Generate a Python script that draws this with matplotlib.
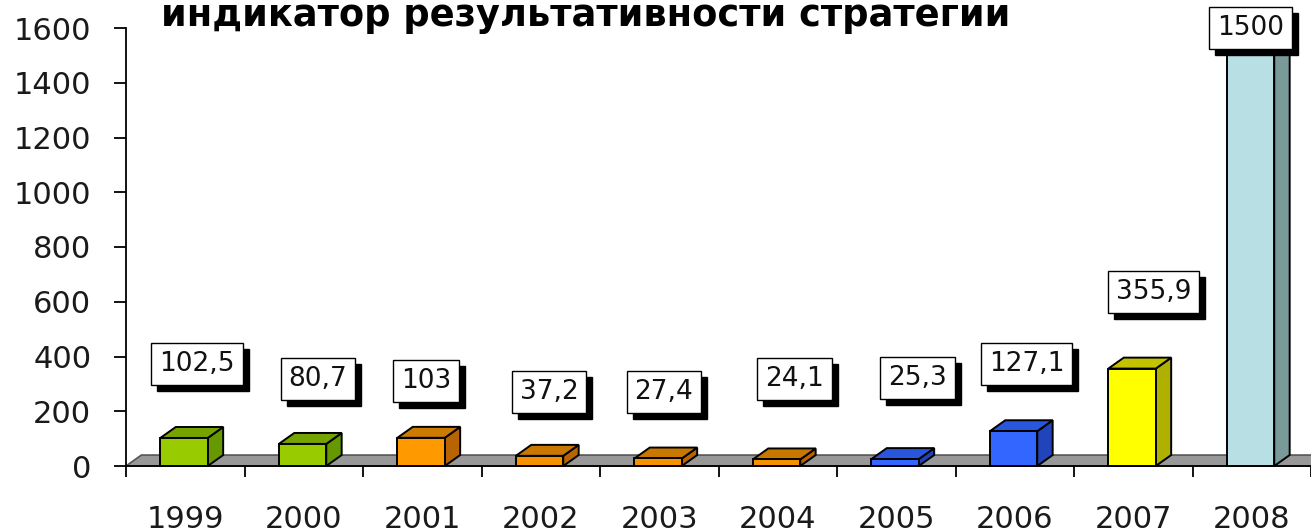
import numpy as np
import matplotlib
matplotlib.use("Agg")
from matplotlib import pyplot as plt
from matplotlib.patches import Polygon, Rectangle
from matplotlib.transforms import ScaledTranslation

years = ["1999", "2000", "2001", "2002", "2003", "2004", "2005", "2006", "2007", "2008"]
values = [102.5, 80.7, 103, 37.2, 27.4, 24.1, 25.3, 127.1, 355.9, 1500]
value_labels = ["102,5", "80,7", "103", "37,2", "27,4", "24,1", "25,3", "127,1", "355,9", "1500"]
title = "индикатор результативности стратегии"

# bar face colours (front, top, side)
front_cols = ["#99cc00", "#99cc00", "#ff9900", "#f59200", "#f59200", "#f59200",
              "#3366ff", "#3366ff", "#ffff00", "#b8dfe3"]
top_cols = ["#77a300", "#77a300", "#cc7a00", "#c87800", "#c87800", "#c87800",
            "#2a55dd", "#2a55dd", "#c2c200", "#b8dfe3"]
side_cols = ["#669900", "#669900", "#b86400", "#b86400", "#b86400", "#b86400",
             "#2244bb", "#2244bb", "#b0b000", "#7a9a9a"]

# where the value boxes sit (x offset from category centre, y in data units)
label_dx = [0.10, 0.12, 0.03, 0.07, 0.04, 0.14, 0.18, 0.10, 0.17, -0.01]
label_y = [373, 318, 312, 270, 270, 318, 321, 373, 635, 1600]

dx, dy = 0.13, 40          # 3d depth offsets
bl, br = -0.21, 0.19       # front face extent around centre

fig = plt.figure(figsize=(13.11, 5.31), dpi=100)
ax = fig.add_axes([126 / 1311, 65 / 531, 1185 / 1311, 438 / 531])
ax.set_xlim(0, 10)
ax.set_ylim(0, 1600)

# floor
floor = Polygon([(0, 0), (10.5, 0), (10.5 + dx, dy), (dx, dy)], closed=True,
                facecolor="#989898", edgecolor="#555555", lw=1.2, zorder=1, clip_on=False)
ax.add_patch(floor)

for i, v in enumerate(values):
    c = i + 0.5
    x0, x1 = c + bl, c + br
    ax.add_patch(Polygon([(x1, 0), (x1 + dx, dy), (x1 + dx, v + dy), (x1, v)],
                         facecolor=side_cols[i], edgecolor="black", lw=1.4, zorder=2, clip_on=False))
    ax.add_patch(Polygon([(x0, v), (x1, v), (x1 + dx, v + dy), (x0 + dx, v + dy)],
                         facecolor=top_cols[i], edgecolor="black", lw=1.4, zorder=2, clip_on=False))
    ax.add_patch(Rectangle((x0, 0), x1 - x0, v, facecolor=front_cols[i],
                           edgecolor="black", lw=1.4, zorder=3, clip_on=False))

shadow = ax.transData + ScaledTranslation(6 / 100, -6 / 100, fig.dpi_scale_trans)
for i, lab in enumerate(value_labels):
    x = i + 0.5 + label_dx[i]
    y = label_y[i]
    ax.text(x, y, lab, transform=shadow, ha="center", va="center", fontsize=19,
            color="black", zorder=5, clip_on=False,
            bbox=dict(boxstyle="square,pad=0.3", fc="black", ec="black", lw=1))
    ax.text(x, y, lab, ha="center", va="center", fontsize=19, color="#111111",
            zorder=6, clip_on=False,
            bbox=dict(boxstyle="square,pad=0.3", fc="white", ec="black", lw=1))

for s in ["top", "right"]:
    ax.spines[s].set_visible(False)
ax.spines["left"].set_linewidth(1.3)
ax.spines["bottom"].set_linewidth(1.3)
ax.spines["left"].set_zorder(4)

ax.set_yticks(np.arange(0, 1601, 200))
ax.set_xticks(np.arange(0, 11))
ax.set_xticklabels([])
ax.set_xticks(np.arange(10) + 0.5, minor=True)
ax.set_xticklabels(years, minor=True)
ax.tick_params(axis="x", which="major", direction="out", length=8, width=1.3)
ax.tick_params(axis="x", which="minor", length=0, pad=28, labelsize=22, labelcolor="#1a1a1a")
ax.tick_params(axis="y", direction="out", length=9, width=1.3, pad=16, labelsize=22,
               labelcolor="#1a1a1a")

fig.text(586 / 1311, 1 - 26 / 531, title, ha="center", va="baseline",
         fontsize=26.5, fontweight="bold")

fig.savefig("out.png", dpi=100)
